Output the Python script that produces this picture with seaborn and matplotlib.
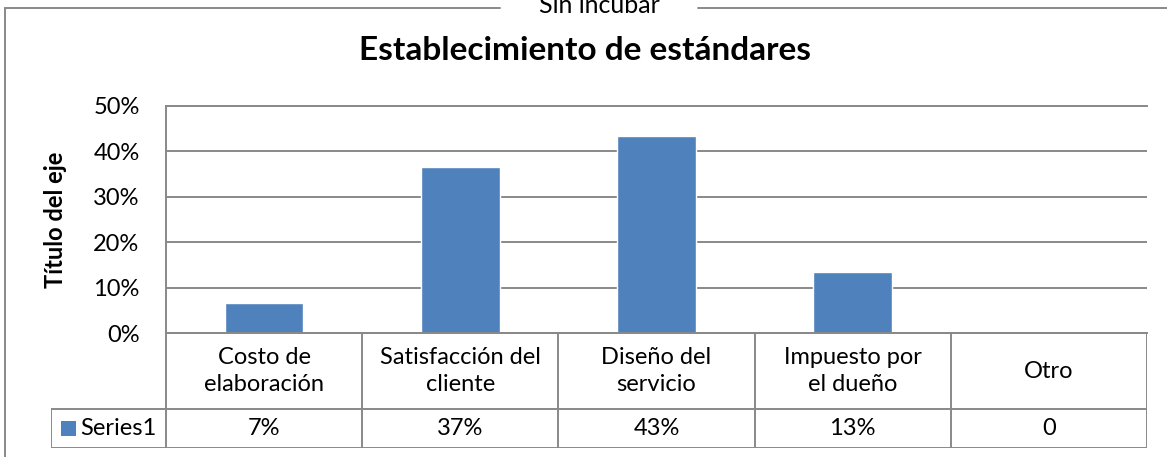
import numpy as np
import pandas as pd
import matplotlib
matplotlib.use("Agg")
import matplotlib.pyplot as plt
import seaborn as sns
from matplotlib.lines import Line2D
from matplotlib.patches import Rectangle
from matplotlib.ticker import PercentFormatter

# datos
categorias = [
    "Costo de\nelaboración",
    "Satisfacción del\ncliente",
    "Diseño del\nservicio",
    "Impuesto por\nel dueño",
    "Otro",
]
valores = [0.0667, 0.3667, 0.4333, 0.1333, 0.0]
etiquetas_valor = ["7%", "37%", "43%", "13%", "0"]
serie = "Series1"
titulo = "Establecimiento de estándares"
subtitulo = "Sin incubar"
ticks_y = [0.0, 0.1, 0.2, 0.3, 0.4, 0.5]

AZUL = "#4F81BD"
GRIS = "#898989"
FS = 17

sns.set_theme(style="white")
plt.rcParams["font.family"] = ["Lato", "DejaVu Sans"]

W, H = 1167, 457
fig = plt.figure(figsize=(W / 100, H / 100), dpi=100)


def fx(px):
    return px / W


def fy(py):
    return 1 - py / H


# área de trazado
x_izq, x_der, y_sup, y_inf = 166, 1147, 106, 333
ax = fig.add_axes([fx(x_izq), fy(y_inf), (x_der - x_izq) / W, (y_inf - y_sup) / H])

df = pd.DataFrame({"categoria": categorias, "valor": valores})
sns.barplot(data=df, x="categoria", y="valor", color=AZUL, width=0.4,
            saturation=1, ax=ax)
ax.set_xlim(-0.5, len(categorias) - 0.5)
ax.set_ylim(ticks_y[0], ticks_y[-1])
ax.set_yticks(ticks_y)
ax.yaxis.set_major_formatter(PercentFormatter(1, decimals=0))
ax.yaxis.grid(True, color=GRIS, lw=1.4)
ax.set_axisbelow(True)
for lado in ["left", "bottom", "top"]:
    ax.spines[lado].set_color(GRIS)
    ax.spines[lado].set_linewidth(1.4)
ax.spines["right"].set_visible(False)
ax.tick_params(axis="y", length=0, pad=19, labelsize=FS, labelcolor="black")
ax.tick_params(axis="x", length=0, labelbottom=False)
ax.set_xlabel("")
ax.set_ylabel("Título del eje", fontsize=17, fontweight="bold", color="black")
ax.yaxis.set_label_coords(-0.101, 0.5)

# tabla de datos bajo el gráfico
px_unidad = (x_der - x_izq) / len(categorias)
x_leyenda = 51
y_tabla_inf = 448
alto_tabla = y_tabla_inf - y_inf
ax_t = fig.add_axes([fx(x_leyenda), fy(y_tabla_inf), (x_der - x_leyenda) / W,
                     alto_tabla / H])
x0 = -0.5 - (x_izq - x_leyenda) / px_unidad
x1 = len(categorias) - 0.5
ax_t.set_xlim(x0, x1)
ax_t.set_ylim(1, 0)
ax_t.axis("off")
y_div = 76 / alto_tabla

kw = dict(color=GRIS, lw=1.4, solid_capstyle="projecting")
ax_t.plot([-0.5, x1], [0, 0], **kw)
ax_t.plot([x0, x1], [y_div, y_div], **kw)
ax_t.plot([x0, x1], [1, 1], **kw)
ax_t.plot([x0, x0], [y_div, 1], **kw)
for i in range(len(categorias) + 1):
    ax_t.plot([i - 0.5, i - 0.5], [0, 1], **kw)

for i, (cat, et) in enumerate(zip(categorias, etiquetas_valor)):
    ax_t.text(i, y_div / 2, cat, ha="center", va="center", fontsize=FS,
              linespacing=1.35, color="black")
    ax_t.text(i, (1 + y_div) / 2, et, ha="center", va="center", fontsize=FS,
              color="black")

lado_px = 15
ax_t.add_patch(Rectangle((x0 + 10 / px_unidad, (1 + y_div) / 2 + 7.5 / alto_tabla),
                         lado_px / px_unidad, -lado_px / alto_tabla, color=AZUL, lw=0))
ax_t.text(x0 + 29 / px_unidad, (1 + y_div) / 2, serie, ha="left", va="center",
          fontsize=FS, color="black")

# título y marco exterior
fig.text(0.501, fy(60), titulo, ha="center", va="baseline", fontsize=24,
         fontweight="bold", color="black")
fig.text(fx(599), fy(13), subtitulo, ha="center", va="baseline", fontsize=18,
         color="black")
fig.add_artist(Line2D([fx(5), fx(5)], [fy(8), 0], color=GRIS, lw=1.4))
fig.add_artist(Line2D([fx(5), fx(500)], [fy(8), fy(8)], color=GRIS, lw=1.4))
fig.add_artist(Line2D([fx(698), 1], [fy(8), fy(8)], color=GRIS, lw=1.4))

fig.savefig("out.png", dpi=100)
